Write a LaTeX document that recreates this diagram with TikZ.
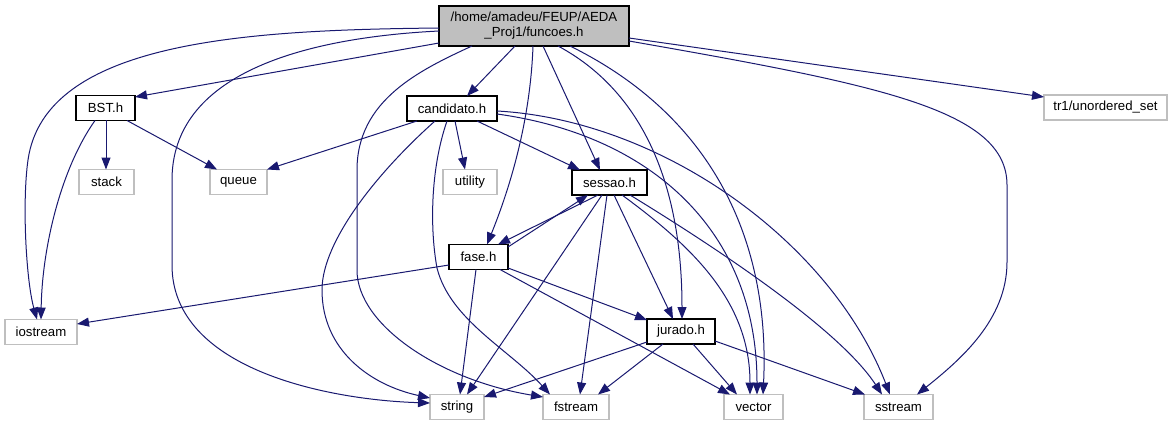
\documentclass[tikz,border=0pt]{standalone}
\usepackage{fontspec}
\setmainfont{Liberation Sans}
\usetikzlibrary{arrows.meta,calc}
\definecolor{edgecol}{HTML}{191970}
\definecolor{sysgray}{HTML}{BFBFBF}
\begin{document}
\begin{tikzpicture}[x=1pt,y=-1pt,
 box/.style={draw=black,line width=1.2pt,fill=white,minimum height=25pt,inner sep=0pt,font=\fontsize{13.2}{15}\selectfont},
 sysbox/.style={box,draw=sysgray},
 rootbox/.style={box,fill=sysgray,minimum height=40pt,align=center},
 dep/.style={draw=edgecol,line width=1pt,-{Triangle[length=12pt,width=9pt]}}]
\fill[white] (0,0) rectangle (1172,425);
\useasboundingbox (0,0) rectangle (1172,425);

% nodes
\node[rootbox,minimum width=190pt] (funcoes) at (534,26) {/home/amadeu/FEUP/AEDA\\\_Proj1/funcoes.h};
\node[box,minimum width=59pt] (bst) at (105.5,108) {BST.h};
\node[box,minimum width=90pt] (cand) at (452,108.5) {candidato.h};
\node[sysbox,minimum width=123pt] (tr1) at (1105.5,107.5) {tr1/unordered\_set};
\node[sysbox,minimum width=55pt] (stack) at (106.5,182) {stack};
\node[sysbox,minimum width=57pt] (queue) at (238.5,182) {queue};
\node[sysbox,minimum width=54pt] (utility) at (470,182) {utility};
\node[box,minimum width=75pt] (sessao) at (609.5,182.5) {sessao.h};
\node[box,minimum width=59pt] (fase) at (478.5,257) {fase.h};
\node[sysbox,minimum width=72pt] (iostream) at (41,332) {iostream};
\node[box,minimum width=68pt] (jurado) at (681,331.5) {jurado.h};
\node[sysbox,minimum width=54pt] (string) at (457,407) {string};
\node[sysbox,minimum width=66pt] (fstream) at (576,407) {fstream};
\node[sysbox,minimum width=59pt] (vector) at (753.5,407) {vector};
\node[sysbox,minimum width=69pt] (sstream) at (898.5,407) {sstream};

% funcoes.h
\draw[dep] ($(funcoes)+(-95,2)$) .. controls (250,30) and (45,40) .. (28,160) .. controls (22,202) and (26,280) .. ($(iostream)+(-4,-12.5)$);
\draw[dep] ($(funcoes)+(-95,5)$) .. controls (300,38) and (172,75) .. (172,180) -- (172,265) .. controls (172,370) and (330,400) .. ($(string)+(-27,-4)$);
\draw[dep] ($(funcoes)+(-95,17)$) -- ($(bst)+(29.5,-11)$);
\draw[dep] ($(funcoes)+(-19,20)$) -- ($(cand)+(15,-12.5)$);
\draw[dep] ($(funcoes)+(-62,20)$) .. controls (420,70) and (357,100) .. (357,170) -- (357,270) .. controls (357,325) and (440,380) .. ($(fstream)+(-33,-10)$);
\draw[dep] ($(funcoes)+(-1,20)$) .. controls (530,130) and (505,200) .. ($(fase)+(8.5,-12.5)$);
\draw[dep] ($(funcoes)+(9,20)$) -- ($(sessao)+(-9.5,-12.5)$);
\draw[dep] ($(funcoes)+(24,20)$) .. controls (640,90) and (682,180) .. ($(jurado)+(1,-12.5)$);
\draw[dep] ($(funcoes)+(36,20)$) .. controls (720,120) and (770,250) .. ($(vector)+(9.5,-12.5)$);
\draw[dep] ($(funcoes)+(95,12)$) -- ($(tr1)+(-61.5,-10.5)$);
\draw[dep] ($(funcoes)+(95,15)$) .. controls (880,85) and (1007,110) .. (1007,185) -- (1007,262) .. controls (1007,320) and (960,360) .. ($(sstream)+(18.5,-12.5)$);

% BST.h
\draw[dep] ($(bst)+(-10.5,12.5)$) .. controls (60,170) and (42,250) .. ($(iostream)+(0,-12.5)$);
\draw[dep] ($(bst)+(0.5,12.5)$) -- ($(stack)+(-0.5,-12.5)$);
\draw[dep] ($(bst)+(21.5,12.5)$) -- ($(queue)+(-21.5,-12.5)$);

% candidato.h
\draw[dep] ($(cand)+(-35,12.5)$) -- ($(queue)+(28.5,-12.5)$);
\draw[dep] ($(cand)+(-17,12.5)$) .. controls (380,170) and (322,240) .. (322,290) .. controls (322,350) and (370,385) .. ($(string)+(-27,-9)$);
\draw[dep] ($(cand)+(-5,12.5)$) .. controls (430,170) and (430,230) .. (437,268) .. controls (450,320) and (510,350) .. ($(fstream)+(-26,-12.5)$);
\draw[dep] ($(cand)+(3,12.5)$) -- ($(utility)+(-5,-12.5)$);
\draw[dep] ($(cand)+(25,12.5)$) -- ($(sessao)+(-29.5,-12.5)$);
\draw[dep] ($(cand)+(45,5.5)$) .. controls (650,135) and (757,230) .. ($(vector)+(3.5,-12.5)$);
\draw[dep] ($(cand)+(45,2.5)$) .. controls (660,120) and (830,240) .. ($(sstream)+(-8.5,-12.5)$);

% sessao.h
\draw[dep] ($(sessao)+(-11.5,12.5)$) -- ($(fase)+(19.5,-12.5)$);
\draw[dep] ($(sessao)+(-7.5,12.5)$) -- ($(string)+(10,-12.5)$);
\draw[dep] ($(sessao)+(-2.5,12.5)$) -- ($(fstream)+(4,-12.5)$);
\draw[dep] ($(sessao)+(4.5,12.5)$) -- ($(jurado)+(-8,-12.5)$);
\draw[dep] ($(sessao)+(12.5,12.5)$) .. controls (690,245) and (750,300) .. ($(vector)+(-3.5,-12.5)$);
\draw[dep] ($(sessao)+(20.5,12.5)$) .. controls (720,250) and (840,330) .. ($(sstream)+(-16.5,-12.5)$);

% fase.h
\draw[dep] ($(fase)+(29.5,-10)$) -- ($(sessao)+(-21.5,12.5)$);
\draw[dep] ($(fase)+(-29.5,8)$) -- ($(iostream)+(36,-8)$);
\draw[dep] ($(fase)+(-2.5,12.5)$) -- ($(string)+(3,-12.5)$);
\draw[dep] ($(fase)+(29.5,11)$) -- ($(jurado)+(-34,-11.5)$);
\draw[dep] ($(fase)+(21.5,12.5)$) -- ($(vector)+(-23.5,-12.5)$);

% jurado.h
\draw[dep] ($(jurado)+(-34,10.5)$) -- ($(string)+(27,-10)$);
\draw[dep] ($(jurado)+(-18,12.5)$) -- ($(fstream)+(22,-12.5)$);
\draw[dep] ($(jurado)+(12,12.5)$) -- ($(vector)+(-16.5,-12.5)$);
\draw[dep] ($(jurado)+(34,9.5)$) -- ($(sstream)+(-33.5,-12.5)$);
\end{tikzpicture}
\end{document}
